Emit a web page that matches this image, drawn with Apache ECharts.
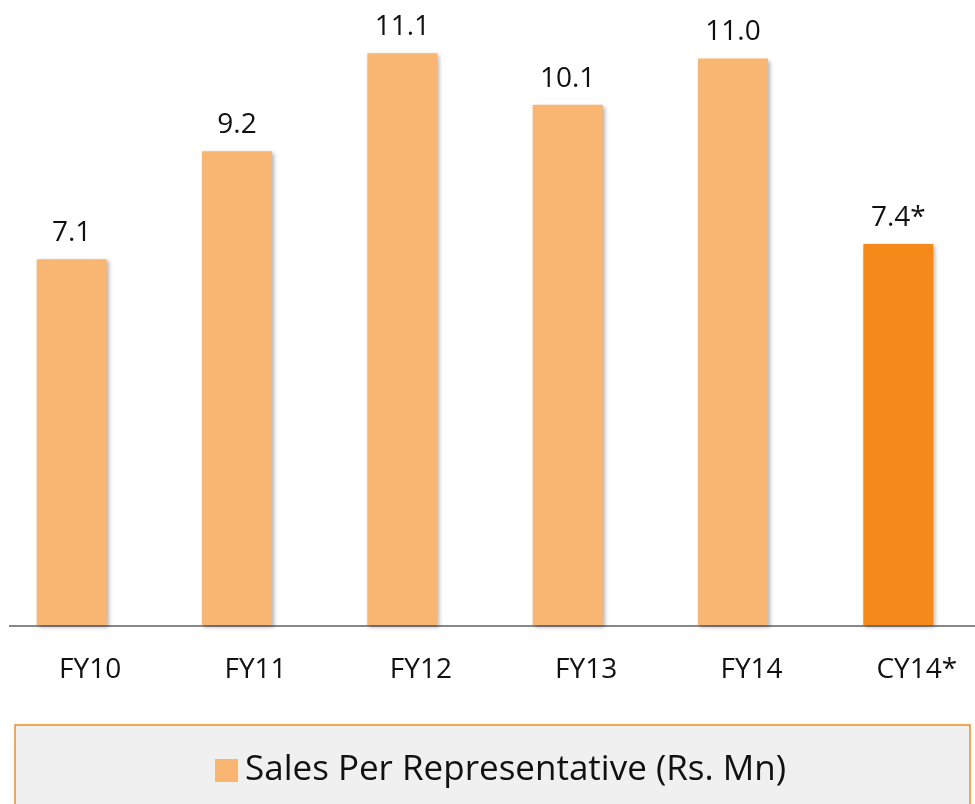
<!DOCTYPE html>
<html>
<head>
<meta charset="utf-8">
<script src="https://cdn.jsdelivr.net/npm/echarts@6/dist/echarts.min.js"></script>
<style>
  html, body { margin: 0; padding: 0; background: #fff; }
  #chart { width: 975px; height: 804px; }
</style>
</head>
<body>
<div id="chart"></div>
<script>
// data
const categories = ["FY10", "FY11", "FY12", "FY13", "FY14", "CY14*"];
const salesPerRep = [7.1, 9.2, 11.1, 10.1, 11.0, 7.4];
const valueLabels = ["7.1", "9.2", "11.1", "10.1", "11.0", "7.4*"];
const seriesName = "Sales Per Representative (Rs. Mn)";

const lightOrange = "#F9B673";
const darkOrange = "#F58A1B";
const font = "'Open Sans', 'Noto Sans', sans-serif";

const chart = echarts.init(document.getElementById("chart"));
chart.setOption({
  animation: false,
  grid: { left: -11, width: 992, top: 7, height: 618, outerBoundsMode: "none" },
  graphic: [
    {
      // legend panel
      type: "rect",
      z: 0,
      shape: { x: 15, y: 725, width: 955, height: 90 },
      style: { fill: "#F0F0F0", stroke: "#F5891F", lineWidth: 1.5 }
    },
    {
      // baseline, starts a little in from the left edge
      type: "line",
      z: 1,
      shape: { x1: 9, y1: 626, x2: 975, y2: 626 },
      style: { stroke: "#888", lineWidth: 2 }
    }
  ],
  legend: {
    data: [seriesName],
    left: 210,
    top: 748,
    z: 5,
    itemWidth: 23,
    itemHeight: 23,
    itemGap: 10,
    icon: "rect",
    textStyle: { fontFamily: font, fontSize: 35, color: "#111", padding: [0, 0, 0, 2] }
  },
  xAxis: {
    type: "category",
    data: categories,
    axisTick: { show: false },
    axisLine: { show: false },
    axisLabel: {
      fontFamily: font,
      fontSize: 28,
      color: "#111",
      margin: 31,
      padding: [0, 0, 0, 37]
    }
  },
  yAxis: {
    type: "value",
    min: 0,
    max: 12,
    show: false,
    splitLine: { show: false }
  },
  series: [
    {
      name: seriesName,
      type: "bar",
      barWidth: 70,
      itemStyle: {
        color: lightOrange,
        shadowBlur: 4,
        shadowColor: "rgba(0,0,0,0.3)",
        shadowOffsetX: 2,
        shadowOffsetY: 2
      },
      label: {
        show: true,
        position: "top",
        distance: 12,
        fontFamily: font,
        fontSize: 28,
        color: "#111",
        formatter: (p) => valueLabels[p.dataIndex]
      },
      data: salesPerRep.map((v, i) =>
        i === salesPerRep.length - 1
          ? { value: v, itemStyle: { color: darkOrange } }
          : v
      )
    }
  ]
});
</script>
</body>
</html>
